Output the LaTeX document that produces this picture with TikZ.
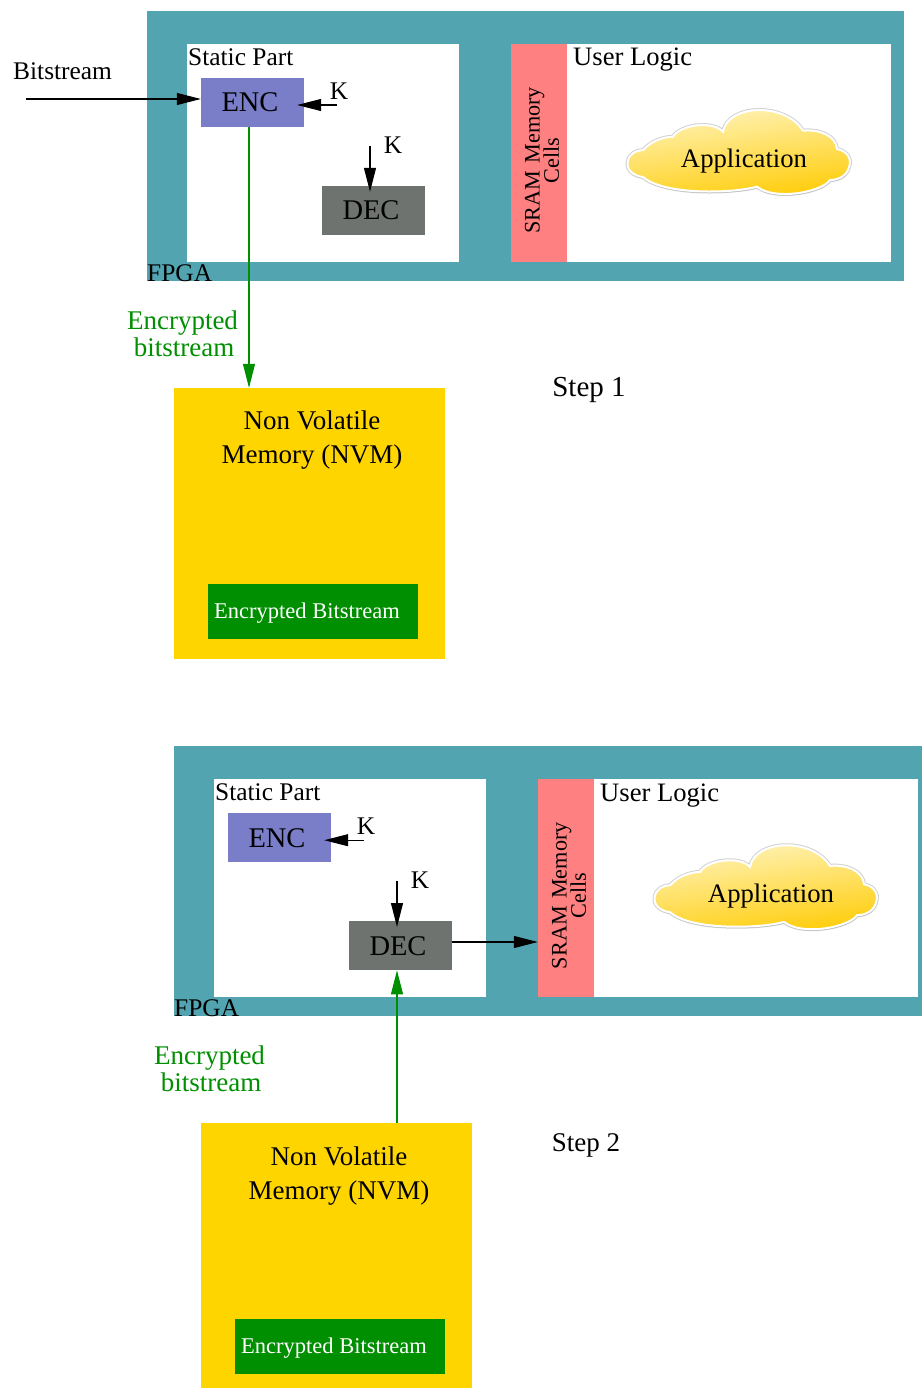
\documentclass[tikz,border=0pt]{standalone}
\usepackage{fontspec}
\setmainfont{Liberation Serif}
\usepackage{tikz}
\usetikzlibrary{arrows.meta,calc,positioning,shadows}
\newcommand{\fsize}[1]{\fontsize{#1}{#1}\selectfont}
\newcommand{\boxtext}[1]{\raisebox{-2pt}{#1}\hspace*{5pt}}
\definecolor{my_teal}{RGB}{83, 164, 177}
\definecolor{my_pink}{RGB}{255, 128, 128}
\definecolor{my_blue}{RGB}{122, 126, 200}
\definecolor{my_gray}{RGB}{111, 115, 111}
\definecolor{my_gold}{RGB}{255, 213, 0}
\definecolor{my_green}{RGB}{0, 143, 0}
\definecolor{my_cloud_top}{RGB}{255, 246, 200}
\definecolor{my_cloud_bottom}{RGB}{255, 203, 0}
\tikzset{
  blocknode/.style = {inner sep=0pt, draw=none, align=center},
  fpga_box/.style = {blocknode, fill=my_teal, minimum width=757pt, minimum height=270pt},
  part_box/.style = {blocknode, fill=white, minimum height=218pt},
  sram_box/.style = {blocknode, fill=my_pink, minimum width=56pt, minimum height=218pt},
  crypto_box/.style = {blocknode, minimum width=103pt, minimum height=49pt, font=\fsize{28.5}},
  nvm_box/.style = {blocknode, fill=my_gold, minimum width=271pt, minimum height=271pt},
  file_box/.style = {blocknode, fill=my_green, minimum width=210pt, minimum height=55pt},
  tag/.style = {inner sep=0pt, align=center, font=\fsize{25.4}}
}

\begin{document}
\begin{tikzpicture}[x=1pt, y=-1pt, >={Triangle[length=24pt,width=12pt]},
	        wire/.style={->, line width=1.1pt, black},
	        green_wire/.style={->, line width=1.1pt, my_green},
	        green_tag/.style={tag, text=my_green, font=\fsize{27}, align=center}]
	\useasboundingbox (0,0) rectangle (921,1388);
	\foreach \s/\dx/\dy in {a/0/0, b/27/735.2} {
	  \begin{scope}[shift={(\dx,\dy)}]
	    \node [fpga_box] (fpga_\s) at (525.5,146) {};
	    \node [part_box, minimum width=272pt] (static_\s) at (323,153) {};
	    \node [part_box, minimum width=324pt] (user_\s) at (728.7,153) {};
	    \node [sram_box] (sram_\s) at (539,153) {};
	    \node [rotate=90, tag, font=\fsize{22.2}, text width=150pt] (sram_text_\s) at (542,160.5)
	      {SRAM Memory\\[-3pt]Cells};
	    \node [crypto_box, fill=my_blue] (enc_\s) at (252.5,102.5) {\boxtext{ENC}};
	    \node [crypto_box, fill=my_gray] (dec_\s) at (373.5,210.5) {\boxtext{DEC}};
	    \node [tag, anchor=west] (static_text_\s) at (188,57) {Static Part};
	    \node [tag, anchor=west, font=\fsize{26.6}] (user_text_\s) at (573,60) {User Logic};
	    \node [tag, anchor=west] (fpga_text_\s) at (147,273) {FPGA};
	    % cloud
	    \path [draw=white, line width=2pt, top color=my_cloud_top, bottom color=my_cloud_bottom,
	      shading angle=8, preaction={draw=gray!35, line width=4pt},
	      drop shadow={shadow xshift=0.5pt, shadow yshift=-1.5pt, opacity=0.3, fill=gray}]
	      (627.7,161.7) .. controls (629,154) and (636,150) .. (643.3,150)
	      .. controls (650,142) and (662,137) .. (673,136.7)
	      .. controls (680,125) and (712,120) .. (723,131.7)
	      .. controls (728,104) and (785,102) .. (803,130.7)
	      .. controls (820,129) and (836,136) .. (837,149)
	      .. controls (848,151) and (852,160) .. (849,167)
	      .. controls (847,176) and (838,180) .. (830,180)
	      .. controls (822,192) and (775,201) .. (757,186.7)
	      .. controls (735,193) and (665,196) .. (643,177)
	      .. controls (634,176) and (626,170) .. (627.7,161.7) -- cycle;
	    \node [tag, font=\fsize{26.7}] (app_\s) at (744,161) {Application};
	    \node [tag] (k_enc_\s) at (339,91) {K};
	    \node [tag] (k_dec_\s) at (393,145) {K};
	    \coordinate (k_enc_in_\s) at (337,105);
	    \coordinate (k_dec_in_\s) at (370,146);
	    \draw [wire, shorten >=-7pt] (k_enc_in_\s) -- (k_enc_in_\s -| enc_\s.east);
	    \draw [wire, shorten >=-6pt] (k_dec_in_\s) -- (k_dec_in_\s |- dec_\s.north);
	    \node [nvm_box] (nvm_\s) at (309.5,523.5) {};
	    \node [tag, font=\fsize{27}] (nvm_text_\s) at (312,440.5) {Non Volatile\\[7pt]Memory (NVM)};
	    \node [file_box] (file_\s) at (313,611.5) {};
	    \node [inner sep=0pt, text=white, font=\fsize{22.5}] (file_text_\s) at (307,613) {Encrypted Bitstream};
	    \node [green_tag] (green_text_\s) at (182.5,333.5) {Encrypted\\[0pt]\hspace*{3pt}bitstream};
	  \end{scope}
	}
	% step 1
	\node [tag, anchor=west] (bit_text) at (13,71) {Bitstream};
	\coordinate (bit_in) at (26,99);
	\draw [wire] (bit_in) -- (bit_in -| enc_a.west);
	\coordinate (enc_out) at ($(enc_a.south)+(-3.5,0)$);
	\draw [green_wire] (enc_out) -- (enc_out |- nvm_a.north);
	\node [tag, font=\fsize{29}] (step_one) at (589,390) {Step 1};
	% step 2
	\coordinate (dec_out) at (dec_b.east |- 0,942);
	\draw [wire] (dec_out) -- (dec_out -| sram_b.west);
	\coordinate (nvm_out) at ($(dec_b.south)+(-3.5,0)$);
	\draw [green_wire] (nvm_out |- nvm_b.north) -- (nvm_out);
	\node [tag, font=\fsize{27}] (step_two) at (586,1145.5) {Step 2};
\end{tikzpicture}
\end{document}
